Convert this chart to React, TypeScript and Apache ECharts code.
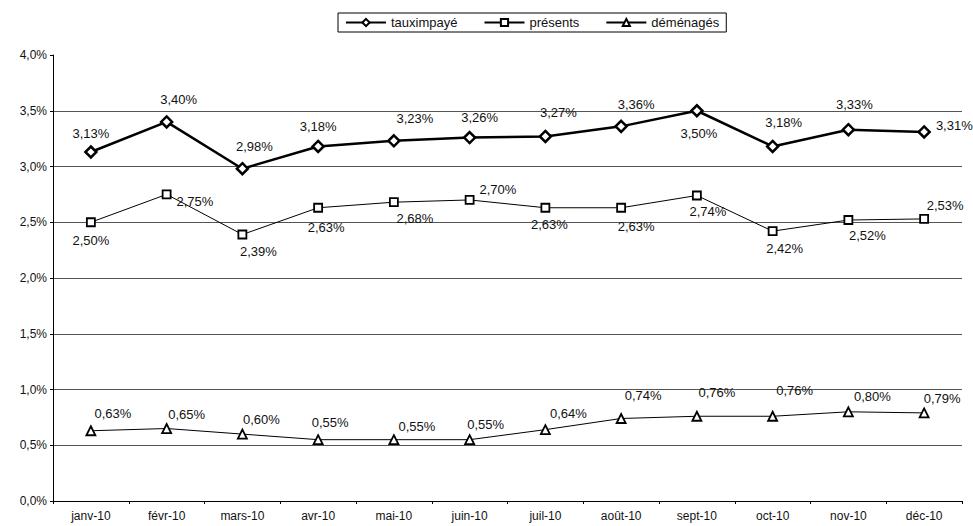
import React, { useEffect, useRef } from "react";
import * as echarts from "echarts";

// Monthly rates for 2010, in percent
const months = [
  "janv-10", "févr-10", "mars-10", "avr-10", "mai-10", "juin-10",
  "juil-10", "août-10", "sept-10", "oct-10", "nov-10", "déc-10",
];
const tauxImpaye = [3.13, 3.4, 2.98, 3.18, 3.23, 3.26, 3.27, 3.36, 3.5, 3.18, 3.33, 3.31];
const presents = [2.5, 2.75, 2.39, 2.63, 2.68, 2.7, 2.63, 2.63, 2.74, 2.42, 2.52, 2.53];
const demenages = [0.63, 0.65, 0.6, 0.55, 0.55, 0.55, 0.64, 0.74, 0.76, 0.76, 0.8, 0.79];
const seriesNames = ["tauximpayé", "présents", "déménagés"];

// Label placement for each point: [position, dx, dy]
type Place = [string, number, number];
const tauxPlace: Place[] = [
  ["top", 0, 0], ["top", 12, -4], ["top", 12, -4], ["top", 0, -2],
  ["top", 21, -4], ["top", 10, -2], ["top", 13, -6], ["top", 15, -4],
  ["bottom", 2, 4], ["top", 11, -6], ["top", 6, -7], ["right", 0, -6],
];
const presPlace: Place[] = [
  ["bottom", 0, 2], ["right", 0, 7], ["bottom", 16, 1], ["bottom", 8, 3],
  ["bottom", 21, 0], ["right", 0, -10], ["bottom", 4, 0], ["bottom", 15, 2],
  ["bottom", 11, 0], ["bottom", 12, 1], ["bottom", 19, -1], ["top", 21, 3],
];
const demPlace: Place[] = [
  ["top", 22, 0], ["top", 20, 3], ["top", 19, 2], ["top", 12, 0],
  ["top", 23, 4], ["top", 16, 2], ["top", 23, 1], ["top", 22, -6],
  ["top", 20, -7], ["top", 22, -9], ["top", 24, 2], ["top", 18, 2],
];

const FONT = 'Arial, "Liberation Sans", sans-serif';
const fmt = (v: number, d: number) => v.toFixed(d).replace(".", ",") + "%";

function points(values: number[], place: Place[]) {
  return values.map((v, i) => ({
    value: v,
    label: { position: place[i][0], offset: [place[i][1], place[i][2]] },
  }));
}

export default function App() {
  const ref = useRef<HTMLDivElement>(null);

  useEffect(() => {
    if (!ref.current) return;
    const chart = echarts.init(ref.current, null, { renderer: "svg" });
    const label = {
      show: true,
      color: "#111",
      fontSize: 13,
      fontFamily: FONT,
      formatter: (p: any) => fmt(p.value, 2),
    };
    chart.setOption({
      animation: false,
      backgroundColor: "#fff",
      textStyle: { fontFamily: FONT },
      legend: {
        left: 338,
        top: 13,
        padding: [3, 7, 3, 7],
        itemGap: 26,
        itemWidth: 40,
        itemHeight: 9,
        borderColor: "#000",
        borderWidth: 1,
        textStyle: { color: "#111", fontSize: 13, fontFamily: FONT },
        data: seriesNames,
      },
      grid: { left: 53, right: 11, top: 55, bottom: 25, containLabel: false },
      xAxis: {
        type: "category",
        data: months,
        boundaryGap: true,
        axisLine: { lineStyle: { color: "#000", width: 1 } },
        axisTick: { show: true, length: 3, alignWithLabel: false, lineStyle: { color: "#000" } },
        axisLabel: { color: "#111", fontSize: 12, margin: 9, fontFamily: FONT, interval: 0 },
      },
      yAxis: {
        type: "value",
        min: 0,
        max: 4,
        interval: 0.5,
        axisLine: { show: true, lineStyle: { color: "#000", width: 1 } },
        axisTick: { show: true, length: 3, lineStyle: { color: "#000" } },
        axisLabel: {
          color: "#111",
          fontSize: 12,
          margin: 6,
          fontFamily: FONT,
          formatter: (v: number) => fmt(v, 1),
        },
        splitLine: {
          show: true,
          lineStyle: { color: "#555", width: 1 },
          showMaxLine: false,
        },
      },
      series: [
        {
          name: seriesNames[0],
          type: "line",
          data: points(tauxImpaye, tauxPlace),
          symbol: "diamond",
          symbolSize: 11,
          lineStyle: { color: "#000", width: 2.5 },
          itemStyle: { color: "#fff", borderColor: "#000", borderWidth: 2.5 },
          label,
        },
        {
          name: seriesNames[1],
          type: "line",
          data: points(presents, presPlace),
          symbol: "rect",
          symbolSize: 8,
          lineStyle: { color: "#000", width: 1 },
          itemStyle: { color: "#fff", borderColor: "#000", borderWidth: 1.8 },
          label,
        },
        {
          name: seriesNames[2],
          type: "line",
          data: points(demenages, demPlace),
          symbol: "triangle",
          symbolSize: 9,
          lineStyle: { color: "#000", width: 1 },
          itemStyle: { color: "#fff", borderColor: "#000", borderWidth: 1.8 },
          label,
        },
      ],
    });
    return () => chart.dispose();
  }, []);

  return (
    <div
      ref={ref}
      style={{ position: "fixed", left: 0, top: 0, width: 973, height: 526, background: "#fff" }}
    />
  );
}
